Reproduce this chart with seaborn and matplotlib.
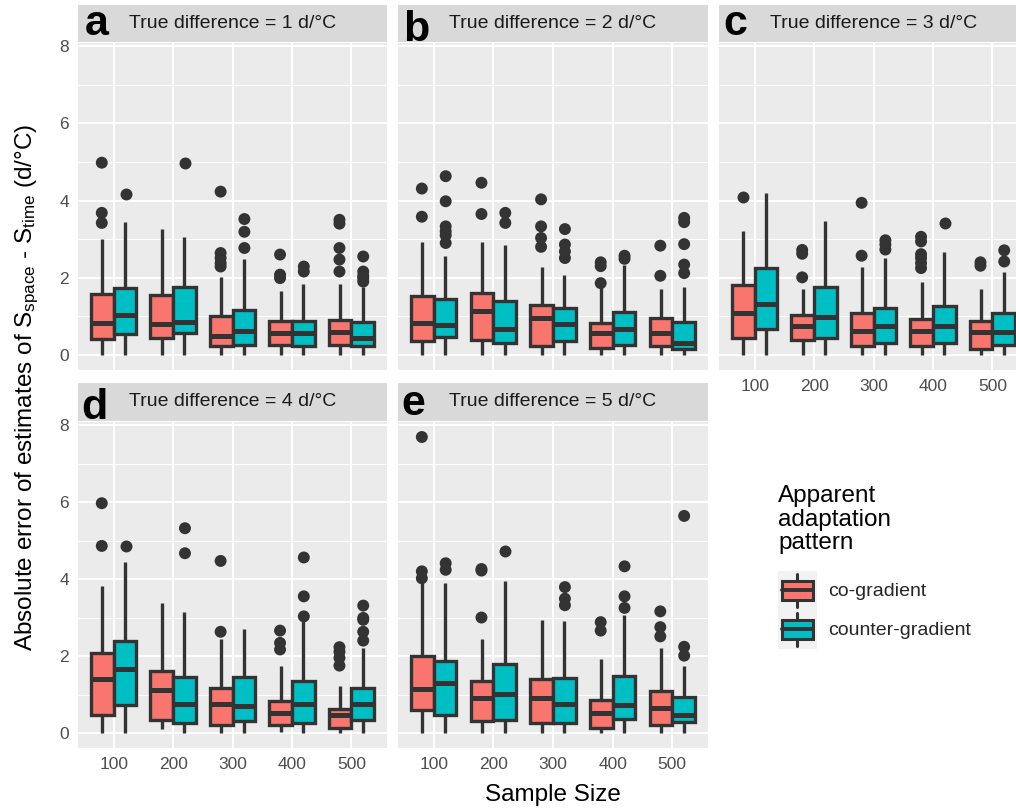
import matplotlib
matplotlib.use("Agg")
import matplotlib.pyplot as plt
import pandas as pd
import seaborn as sns
from matplotlib.legend_handler import HandlerBase
from matplotlib.lines import Line2D
from matplotlib.patches import Patch, Rectangle

# ---- data ---------------------------------------------------------------
SIZES = ["100", "200", "300", "400", "500"]
PATTERNS = ["co-gradient", "counter-gradient"]
PANELS = ["a", "b", "c", "d", "e"]
TRUE_DIFF = [1, 2, 3, 4, 5]

# five-number summaries [low whisker, q1, median, q3, high whisker]
# order: 100 co, 100 counter, 200 co, 200 counter, ... 500 counter
BOX_A = [[0.0, 0.41, 0.84, 1.58, 3.00], [0.0, 0.54, 1.04, 1.73, 3.44],
         [0.0, 0.43, 0.80, 1.56, 3.26], [0.0, 0.56, 0.85, 1.77, 3.06],
         [0.0, 0.22, 0.48, 1.00, 2.03], [0.0, 0.26, 0.62, 1.17, 2.48],
         [0.0, 0.26, 0.56, 0.89, 1.66], [0.0, 0.22, 0.56, 0.89, 1.84],
         [0.0, 0.26, 0.59, 0.91, 1.84], [0.0, 0.22, 0.45, 0.85, 1.75]]
BOX_B = [[0.0, 0.35, 0.84, 1.53, 2.92], [0.0, 0.46, 0.78, 1.45, 2.55],
         [0.0, 0.39, 1.13, 1.60, 2.92], [0.0, 0.32, 0.68, 1.39, 2.86],
         [0.0, 0.23, 0.95, 1.30, 2.27], [0.0, 0.37, 0.80, 1.21, 2.06],
         [0.0, 0.19, 0.58, 0.82, 1.77], [0.0, 0.26, 0.67, 1.11, 2.32],
         [0.0, 0.22, 0.58, 0.95, 1.71], [0.0, 0.15, 0.30, 0.85, 1.77]]
BOX_C = [[0.0, 0.43, 1.08, 1.80, 3.20], [0.0, 0.67, 1.32, 2.25, 4.20],
         [0.0, 0.39, 0.74, 1.03, 1.70], [0.0, 0.43, 0.97, 1.76, 3.48],
         [0.0, 0.22, 0.62, 1.08, 2.28], [0.0, 0.30, 0.74, 1.21, 2.51],
         [0.0, 0.23, 0.62, 0.94, 1.90], [0.0, 0.30, 0.74, 1.28, 2.66],
         [0.0, 0.15, 0.59, 0.88, 1.72], [0.0, 0.26, 0.59, 1.08, 2.16]]
BOX_D = [[0.0, 0.48, 1.41, 2.08, 3.81], [0.0, 0.74, 1.65, 2.38, 4.43],
         [0.10, 0.35, 1.11, 1.62, 3.39], [0.0, 0.27, 0.76, 1.45, 3.14],
         [0.0, 0.22, 0.76, 1.17, 2.45], [0.0, 0.31, 0.70, 1.45, 2.70],
         [0.03, 0.22, 0.53, 0.83, 1.74], [0.0, 0.27, 0.76, 1.35, 2.94],
         [0.0, 0.14, 0.46, 0.63, 1.22], [0.0, 0.33, 0.76, 1.17, 2.21]]
BOX_E = [[0.0, 0.61, 1.13, 2.00, 3.89], [0.0, 0.46, 1.30, 1.88, 3.89],
         [0.0, 0.31, 0.92, 1.36, 2.43], [0.0, 0.33, 1.02, 1.80, 3.94],
         [0.0, 0.27, 0.92, 1.41, 2.94], [0.0, 0.27, 0.76, 1.43, 2.90],
         [0.0, 0.14, 0.53, 0.85, 1.91], [0.0, 0.37, 0.73, 1.49, 3.07],
         [0.0, 0.22, 0.66, 1.09, 2.21], [0.0, 0.29, 0.46, 0.93, 1.74]]

OUT_A = [[4.98, 3.68, 3.42], [4.18], [], [4.98],
         [4.23, 2.64, 2.51, 2.38, 2.29], [3.52, 3.19, 2.77],
         [2.60, 2.08, 1.99], [2.29, 2.16],
         [3.50, 3.40, 2.77, 2.47, 2.16], [2.55, 2.16, 2.05, 1.99, 1.90]]
OUT_B = [[4.31, 3.58], [4.63, 3.98, 3.33, 3.20, 3.10, 2.90],
         [4.46, 3.65], [3.68, 3.42],
         [4.03, 3.33, 3.03, 2.80], [3.26, 2.86, 2.68, 2.51],
         [2.40, 2.30, 1.86], [2.57, 2.49],
         [2.83, 2.05], [3.55, 3.44, 2.87, 2.34, 2.12]]
OUT_C = [[4.10], [], [2.72, 2.62, 2.01], [],
         [3.94, 2.57], [2.97, 2.86, 2.73],
         [3.06, 2.94, 2.61, 2.51, 2.38, 2.25], [3.42],
         [2.40, 2.31], [2.71, 2.42]]
OUT_D = [[5.97, 4.86], [4.86], [], [5.32, 4.67],
         [4.47, 2.63], [],
         [2.66, 2.34, 2.17], [4.56, 3.55, 3.03],
         [2.23, 2.11, 1.95, 1.75], [3.31, 2.99, 2.94, 2.63, 2.40]]
OUT_E = [[7.69, 4.20, 4.02], [4.41, 4.24], [4.26, 4.22, 3.00], [4.73],
         [], [3.79, 3.49, 3.32],
         [2.88, 2.66], [4.33, 3.55, 3.25],
         [3.16, 2.75, 2.51], [5.64, 2.24, 2.01]]

BOX_STATS = [BOX_A, BOX_B, BOX_C, BOX_D, BOX_E]
OUTLIERS = [OUT_A, OUT_B, OUT_C, OUT_D, OUT_E]

# ---- style ---------------------------------------------------------------
COLORS = ["#F8766D", "#00BFC4"]
DARK = "#333333"

sns.set_theme(style="darkgrid", rc={"axes.facecolor": "#EBEBEB",
                                    "grid.color": "white",
                                    "axes.edgecolor": "none"})
plt.rcParams["font.family"] = ["Liberation Sans", "DejaVu Sans"]
plt.rcParams["mathtext.default"] = "regular"

W, H = 1016, 808


def frac(x0, y0, x1, y1):
    """Pixel box (top-left origin) -> figure fraction rect."""
    return [x0 / W, 1 - y1 / H, (x1 - x0) / W, (y1 - y0) / H]


# panel / strip boxes in pixels, letter positions (x, baseline)
PANEL_BOX = [(78, 43, 387, 370), (398, 43, 708, 370), (719, 43, 1028, 370),
             (78, 422, 387, 748), (398, 422, 708, 748)]
STRIP_Y = [(5, 42), (5, 42), (5, 42), (383, 421), (383, 421)]
LETTER_POS = [(85, 35), (403, 41), (723, 35), (81, 419), (401, 415)]

# long table: five-number values for boxes, outliers separately
rows = []
for p, stats, outs in zip(PANELS, BOX_STATS, OUTLIERS):
    for i, (five, extra) in enumerate(zip(stats, outs)):
        size, pat = SIZES[i // 2], PATTERNS[i % 2]
        rows += [(p, size, pat, v, "box") for v in five]
        rows += [(p, size, pat, v, "out") for v in extra]
df = pd.DataFrame(rows, columns=["panel", "size", "pattern", "value", "kind"])

fig = plt.figure(figsize=(W / 100, H / 100), dpi=100)

for k, p in enumerate(PANELS):
    ax = fig.add_axes(frac(*PANEL_BOX[k]))
    sub = df[df["panel"] == p]
    sns.boxplot(data=sub[sub["kind"] == "box"], x="size", y="value",
                hue="pattern", order=SIZES, hue_order=PATTERNS,
                palette=COLORS, saturation=1, whis=(0, 100), width=0.76,
                linewidth=2.4, linecolor=DARK, fliersize=0, showcaps=False,
                medianprops={"linewidth": 3.6}, legend=False, ax=ax)
    sns.stripplot(data=sub[sub["kind"] == "out"], x="size", y="value",
                  hue="pattern", order=SIZES, hue_order=PATTERNS,
                  palette=[DARK, DARK], dodge=True, jitter=False, size=8.6,
                  legend=False, ax=ax)

    ax.set_xlim(-0.6, 4.6)
    ax.set_ylim(-0.39, 8.08)
    ax.set_yticks([0, 2, 4, 6, 8])
    ax.set_yticks([1, 3, 5, 7], minor=True)
    ax.grid(True, which="major", color="white", linewidth=1.5)
    ax.grid(True, which="minor", axis="y", color="white", linewidth=0.75)
    ax.set_axisbelow(True)
    ax.set_xlabel("")
    ax.set_ylabel("")
    ax.tick_params(which="minor", length=0)
    ax.tick_params(which="major", length=3.8, width=1.3, color=DARK,
                   labelcolor="#4D4D4D", labelsize=12.5, pad=2.5)
    if p not in ("a", "d"):
        ax.tick_params(axis="y", left=False, labelleft=False)
    if p in ("a", "b"):
        ax.tick_params(axis="x", bottom=False, labelbottom=False)
    for s in ax.spines.values():
        s.set_visible(False)

    # facet strip
    x0, _, x1, _ = PANEL_BOX[k]
    sax = fig.add_axes(frac(x0, STRIP_Y[k][0], x1, STRIP_Y[k][1]))
    sax.set_facecolor("#D9D9D9")
    sax.set_xticks([])
    sax.set_yticks([])
    sax.grid(False)
    for s in sax.spines.values():
        s.set_visible(False)
    sax.text(0.5, 0.5, f"True difference = {TRUE_DIFF[k]} d/°C",
             ha="center", va="center", fontsize=14, color="#1A1A1A")

    lx, ly = LETTER_POS[k]
    fig.text(lx / W, 1 - ly / H, p, fontsize=31, fontweight="bold",
             color="black", va="baseline", ha="left")

# axis titles
fig.text(553 / W, 1 - 801 / H, "Sample Size", fontsize=17.5,
         ha="center", va="baseline", color="black")
fig.text(27 / W, 1 - 387 / H,
         "Absolute error of estimates of S$_{\\mathregular{space}}$ - "
         "S$_{\\mathregular{time}}$ (d/°C)",
         rotation=90, fontsize=17.5, ha="center", va="center", color="black")


# legend keys drawn like ggplot boxplot keys
class BoxKey(HandlerBase):
    def create_artists(self, legend, orig_handle, xdescent, ydescent,
                       width, height, fontsize, trans):
        x0, y0 = -xdescent, -ydescent
        bg = Rectangle((x0, y0), width, height, facecolor="#F2F2F2",
                       edgecolor="none", transform=trans)
        cx = x0 + width / 2
        whisk = Line2D([cx, cx], [y0 + 0.08 * height, y0 + 0.92 * height],
                       color=DARK, lw=2.2, transform=trans)
        box = Rectangle((x0 + 0.1 * width, y0 + 0.26 * height), 0.8 * width,
                        0.48 * height, facecolor=orig_handle.get_facecolor(),
                        edgecolor=DARK, lw=2.2, transform=trans)
        med = Line2D([x0 + 0.1 * width, x0 + 0.9 * width],
                     [y0 + 0.5 * height] * 2, color=DARK, lw=2.8,
                     transform=trans)
        return [bg, whisk, box, med]


handles = [Patch(facecolor=c, edgecolor=DARK) for c in COLORS]
fig.text(778 / W, 1 - 485 / H, "Apparent\nadaptation\npattern",
         fontsize=17.5, ha="left", va="top", linespacing=1.1, color="black")
fig.legend(handles, PATTERNS, handler_map={Patch: BoxKey()},
           loc="upper left", bbox_to_anchor=(778 / W, 1 - 571 / H),
           frameon=False, borderpad=0, borderaxespad=0, labelspacing=0,
           handlelength=2, handleheight=2.7, handletextpad=0.6,
           fontsize=14)

fig.savefig("out.png", dpi=100)
